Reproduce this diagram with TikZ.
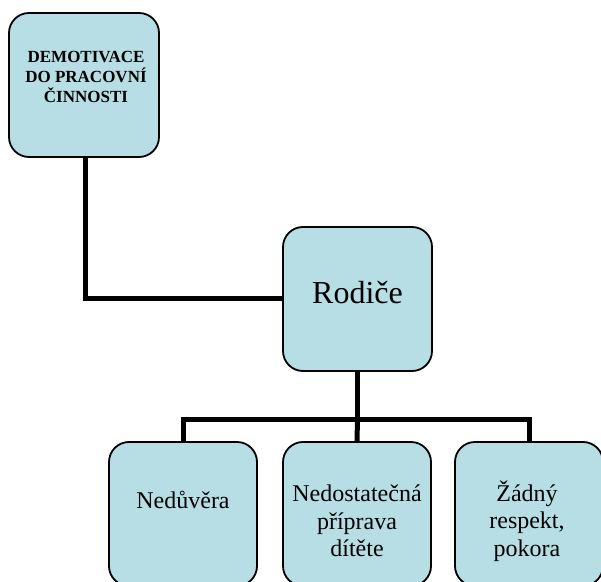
\documentclass[tikz,border=0pt]{standalone}
\usepackage{fontspec}
\setmainfont{Liberation Serif}
\usepackage{tikz}
\usetikzlibrary{positioning,calc}
\definecolor{boxcyan}{RGB}{183,222,229}

\begin{document}
\begin{tikzpicture}[
  x=1pt, y=1pt,
  box/.style={rectangle, draw, line width=1.8pt, rounded corners=20pt, fill=boxcyan, minimum width=148pt, minimum height=144pt, inner sep=0pt},
  headtext/.style={align=center, font=\fontsize{17}{20}\selectfont\bfseries},
  bigtext/.style={align=center, font=\fontsize{32}{36}\selectfont},
  leaftext/.style={align=center, font=\fontsize{24}{27.6}\selectfont},
  link/.style={line width=5pt},
]
  \clip (0,0) rectangle (601,581);

  % Boxes
  \node[box, minimum width=150pt] (demo) at (84,496) {};
  \node[headtext] (demotext) at (86,504) {DEMOTIVACE\\DO PRACOVNÍ\\ČINNOSTI};
  \node[box, minimum width=149pt] (parents) at (357.5,282) {};
  \node[bigtext] (parentstext) at (357.5,288) {Rodiče};
  \node[box] (trust) at (183,67) {};
  \node[leaftext] (trusttext) at (183,81) {Nedůvěra};
  \node[box] (prep) at (357,67) {};
  \node[leaftext] (preptext) at (357,60) {Nedostatečná\\příprava\\dítěte};
  \node[box] (respect) at (529,67) {};
  \node[leaftext] (respecttext) at (527,60) {Žádný\\respekt,\\pokora};

  % Links
  \draw[link] (demo.south -| 85,0) |- (parents.west);
  \coordinate (fork) at (parents.south |- 0,162);
  \draw[link] (parents.south) -- (fork);
  \draw[link] (fork) -- (prep.north);
  \draw[link] (trust.north) |- (fork) -| (respect.north);
\end{tikzpicture}
\end{document}
